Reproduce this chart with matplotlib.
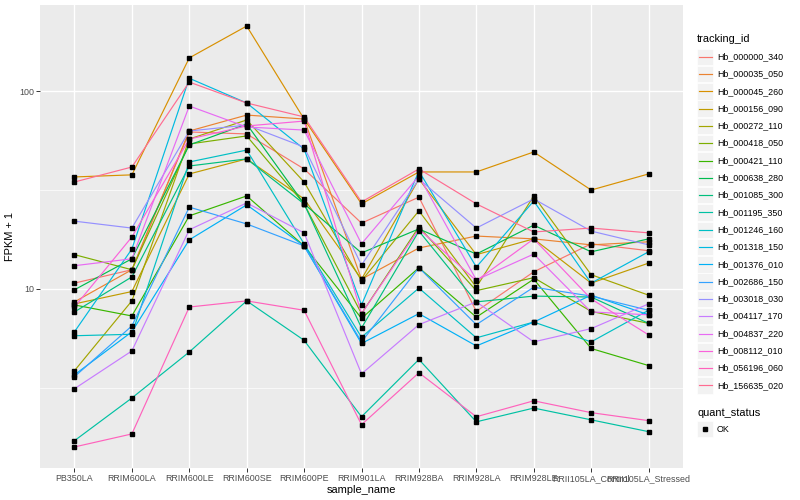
import numpy as np
import matplotlib
matplotlib.use("Agg")
import matplotlib.pyplot as plt
from matplotlib.patches import Rectangle

OUT = "out.png"

SAMPLES = ["PB350LA", "RRIM600LA", "RRIM600LE", "RRIM600SE", "RRIM600PE",
           "RRIM901LA", "RRIM928BA", "RRIM928LA", "RRIM928LE",
           "RRII105LA_Control", "RRII105LA_Stressed"]

TRACKING_IDS = ["Hb_000000_340", "Hb_000035_050", "Hb_000045_260", "Hb_000156_090",
                "Hb_000272_110", "Hb_000418_050", "Hb_000421_110", "Hb_000638_280",
                "Hb_001085_300", "Hb_001195_350", "Hb_001246_160", "Hb_001318_150",
                "Hb_001376_010", "Hb_002686_150", "Hb_003018_030", "Hb_004117_170",
                "Hb_004837_220", "Hb_008112_010", "Hb_056196_060", "Hb_156635_020"]

# FPKM + 1 per gene, one value per sample
FPKM = [
    [10.7, 12.5, 62.1, 60.7, 40.4, 21.5, 29.1, 7.7, 12.2, 16.9, 15.6],
    [8.6, 12.5, 62.8, 75.6, 72.2, 11.2, 16.1, 18.5, 17.9, 16.7, 17.3],
    [36.8, 37.7, 147, 213, 72.2, 26.9, 39.0, 39.0, 49.2, 31.6, 38.1],
    [8.4, 9.7, 38.1, 45.4, 28.5, 11.2, 35.9, 14.9, 17.9, 10.7, 13.5],
    [3.86, 8.7, 57.2, 71.4, 34.7, 11.0, 24.8, 10.2, 29.5, 11.8, 9.3],
    [14.9, 12.5, 54.0, 59.3, 26.9, 7.5, 20.6, 9.8, 11.4, 7.7, 6.7],
    [8.3, 7.3, 23.4, 29.5, 16.5, 7.1, 12.8, 7.2, 11.2, 5.0, 4.1],
    [9.9, 14.2, 53.4, 68.1, 26.9, 15.2, 20.1, 15.0, 21.0, 15.4, 17.9],
    [7.65, 11.5, 41.8, 45.4, 26.9, 6.35, 19.6, 8.6, 9.2, 9.1, 6.7],
    [1.71, 2.81, 4.8, 8.7, 5.5, 2.26, 4.4, 2.13, 2.5, 2.18, 1.9],
    [5.8, 5.9, 43.8, 50.3, 16.9, 5.7, 10.1, 5.66, 6.8, 5.4, 7.8],
    [6.07, 15.9, 116, 87, 50.9, 8.3, 39.4, 12.9, 27.8, 10.7, 15.4],
    [3.68, 6.07, 17.7, 26.6, 16.5, 5.3, 7.5, 5.15, 6.8, 9.3, 7.4],
    [3.6, 6.5, 25.9, 21.3, 16.5, 5.4, 12.8, 6.6, 10.2, 9.2, 7.8],
    [22.0, 20.3, 62.8, 67.3, 52.1, 13.2, 35.9, 20.3, 28.5, 19.6, 16.7],
    [3.13, 4.86, 19.9, 27.2, 19.2, 3.72, 6.6, 8.6, 5.4, 6.3, 8.4],
    [13.1, 14.2, 84, 65.8, 63.5, 16.9, 37.2, 11.1, 15.0, 7.65, 7.4],
    [8.1, 18.3, 57.2, 66.6, 70.5, 7.5, 20.1, 11.0, 17.9, 8.9, 5.86],
    [1.59, 1.85, 8.1, 8.7, 7.8, 2.06, 3.77, 2.26, 2.72, 2.37, 2.16],
    [34.7, 41.3, 111, 87, 74, 27.5, 40.4, 26.9, 19.4, 20.3, 19.2],
]

# ggplot default hue palette for 20 levels
COLORS = ["#F8766D", "#EA8331", "#D89000", "#C09B00", "#A3A500", "#7CAE00", "#39B600",
          "#00BB4E", "#00BF7D", "#00C1A3", "#00BFC4", "#00BAE0", "#00B0F6", "#35A2FF",
          "#9590FF", "#C77CFF", "#E76BF3", "#FA62DB", "#FF62BC", "#FF6C91"]

plt.rcParams["font.family"] = ["Liberation Sans", "DejaVu Sans"]


def main():
    fig = plt.figure(figsize=(8, 5), dpi=100)
    W, H = 800, 500

    # panel in pixel coords: left 40, right 683, top 5, bottom 468
    ax = fig.add_axes([40 / W, (H - 468) / H, (683 - 40) / W, (468 - 5) / H])
    ax.set_facecolor("#EBEBEB")
    for s in ax.spines.values():
        s.set_visible(False)

    x = np.arange(len(SAMPLES))
    for vals, col in zip(FPKM, COLORS):
        ax.plot(x, vals, color=col, lw=0.85, zorder=3)
    for vals in FPKM:
        ax.plot(x, vals, ls="none", marker="s", ms=2.9, color="black", zorder=4)

    ax.set_yscale("log")
    allv = np.log10(np.array(FPKM, dtype=float))
    lo, hi = allv.min(), allv.max()
    pad = (hi - lo) * 0.05
    ax.set_ylim(10 ** (lo - pad), 10 ** (hi + pad))
    ax.set_xlim(-0.6, len(SAMPLES) - 0.4)

    ax.set_yticks([10, 100])
    ax.set_yticklabels(["10", "100"])
    ax.set_yticks([10 ** 0.5, 10 ** 1.5], minor=True)
    ax.yaxis.set_minor_formatter(plt.NullFormatter())
    ax.set_xticks(x)
    ax.set_xticklabels(SAMPLES)

    ax.grid(True, which="major", color="white", lw=1.0, zorder=0)
    ax.grid(True, which="minor", axis="y", color="white", lw=0.5, zorder=0)
    ax.set_axisbelow(True)
    ax.tick_params(axis="both", which="major", length=2.7, width=0.7, color="#333333",
                   labelsize=6.4, labelcolor="#4D4D4D", pad=1.5)
    ax.tick_params(axis="y", which="minor", length=0)

    ax.set_xlabel("sample_name", fontsize=7.9, labelpad=1.5)
    ax.set_ylabel("FPKM + 1", fontsize=7.9, labelpad=3)

    # legend drawn by hand, in pixel coords
    lg = fig.add_axes([0, 0, 1, 1])
    lg.set_xlim(0, W)
    lg.set_ylim(H, 0)
    lg.axis("off")
    lg.patch.set_alpha(0)

    lg.text(697, 39, "tracking_id", fontsize=7.9, va="center", ha="left")
    y0, step = 56.7, 17.3
    for i, (name, col) in enumerate(zip(TRACKING_IDS, COLORS)):
        yy = y0 + i * step
        lg.add_patch(Rectangle((697, yy - 8.2), 16.4, 16.4, facecolor="#F2F2F2",
                               edgecolor="white", lw=0.5))
        lg.plot([698.5, 711.5], [yy, yy], color=col, lw=0.85)
        lg.text(717, yy, name, fontsize=6.4, va="center", ha="left")

    lg.text(697, 413, "quant_status", fontsize=7.9, va="center", ha="left")
    lg.add_patch(Rectangle((697, 429 - 8.2), 16.4, 16.4, facecolor="#F2F2F2",
                           edgecolor="white", lw=0.5))
    lg.plot([705], [429], marker="s", ms=2.9, color="black")
    lg.text(717, 429, "OK", fontsize=6.4, va="center", ha="left")

    fig.savefig(OUT, dpi=100)


if __name__ == "__main__":
    main()
